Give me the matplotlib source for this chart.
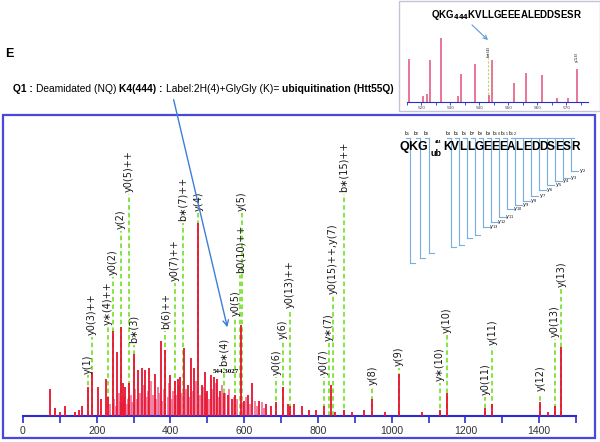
import numpy as np
import matplotlib
matplotlib.use("Agg")
import matplotlib.pyplot as plt
from matplotlib.patches import Rectangle, FancyArrowPatch

# ---- spectrum data (m/z, relative intensity, y(4) = 100) ----
peak_mz = [73, 86, 100, 113, 140, 152, 159, 176, 187, 203,
           211, 224, 230, 243, 256, 265, 270, 278, 287, 300,
           313, 324, 332, 343, 357, 373, 386, 400, 411, 420,
           427, 438, 447, 457, 465, 476, 485, 493, 500, 510,
           519, 527, 535, 544, 555, 566, 576, 592, 600, 610,
           622, 640, 660, 672, 687, 705, 718, 724, 735, 757,
           775, 795, 816, 835, 845, 870, 892, 924, 948, 981,
           1019, 1081, 1130, 1149, 1254, 1273, 1403, 1424, 1443, 1460]
peak_int = [14, 4, 2, 5, 2, 3, 5, 15, 23, 15,
            9, 19, 10, 44, 33, 46, 17, 15, 17, 32,
            24, 25, 24, 25, 22, 39, 34, 21, 18, 19,
            20, 35, 16, 30, 25, 100, 16, 23, 13, 21,
            20, 19, 13, 12, 11, 9, 11, 47, 8, 11,
            17, 8, 6, 5, 7, 15, 6, 5, 6, 5,
            3, 3, 5, 16, 2, 3, 2, 3, 9, 2,
            22, 2, 3, 12, 4, 6, 7, 2, 5, 36]

# dense low peaks (pink)
fill_mz = [236, 248, 252, 260, 262, 268, 274, 282, 284, 292,
           296, 305, 308, 318, 328, 336, 340, 348, 352, 362,
           366, 370, 378, 382, 392, 396, 404, 408, 415, 424,
           431, 442, 451, 461, 470, 480, 489, 497, 504, 514,
           523, 531, 539, 549, 560, 571, 581, 596, 605, 615,
           628, 634, 648, 655]
fill_int = [6, 9, 5, 12, 8, 7, 10, 6, 9, 11,
            7, 14, 9, 12, 16, 10, 13, 18, 11, 9,
            15, 12, 8, 14, 10, 17, 9, 13, 11, 16,
            12, 14, 10, 13, 18, 11, 15, 12, 9, 14,
            17, 10, 16, 12, 14, 10, 9, 7, 10, 6,
            8, 5, 7, 4]

# annotated fragment ions: name, m/z, height where the label starts
ion_names = ["y(1)", "y0(3)++", "y\u2217(4)++", "y0(2)", "y(2)", "y0(5)++", "b\u2217(3)",
             "b(6)++", "y0(7)++", "b\u2217(7)++", "y(4)", "b\u2217(4)", "y0(5)", "b0(10)++",
             "y(5)", "y0(6)", "y(6)", "y0(13)++", "y0(7)", "y\u2217(7)", "y0(15)++,y(7)",
             "b\u2217(15)++", "y(8)", "y(9)", "y\u2217(10)", "y(10)", "y0(11)", "y(11)",
             "y(12)", "y0(13)", "y(13)"]
ion_mz = [176, 187, 230, 243, 265, 287, 300, 386, 411, 433, 476, 544, 576, 589,
          594, 687, 705, 724, 816, 830, 840, 870, 948, 1019, 1130, 1149, 1254, 1273,
          1403, 1443, 1460]
ion_label_y = [21, 41, 46, 72, 96, 115, 37, 44, 69, 100, 105, 25, 51, 73,
               105, 20, 39, 55, 20, 38, 62, 115, 15, 25, 17, 42, 10, 36,
               12, 40, 66]

# zoomed inset spectrum
inset_mz = [515.7, 520.5, 521.9, 522.9, 526.7, 532.6, 533.6, 538.5, 543.3, 544.3,
            552.0, 556.1, 561.6, 566.8, 570.6, 573.7]
inset_int = [43, 6, 8, 42, 64, 6, 28, 38, 7, 42, 19, 29, 27, 4, 4, 33]

# peptide ladder
pep_head = "QKG"
pep_tail = "KVLLGEEEALEDDSESR"
ladder_depth = [263, 258, 253, 247, 245, 238, 235, 227, 222, 217,
                209, 205, 201, 196, 190, 185, 181, 178, 171]

W, H = 600, 442
RED = "#e8112d"
PINK = "#ee5f86"
GREEN = "#66dd11"
BLUE = "#2b2bd0"
LADDER = "#7aaee0"


def fbox(x0, y0, x1, y1):
    return [x0 / W, 1 - y1 / H, (x1 - x0) / W, (y1 - y0) / H]


fig = plt.figure(figsize=(6, 4.42), dpi=100)
fig.patch.set_facecolor("white")

# ---- main spectrum ----
ax = fig.add_axes(fbox(23, 120, 576, 416))
ax.patch.set_alpha(0)
ax.set_xlim(0, 1500)
ax.set_ylim(0, 153.4)
for s in ["left", "top", "right"]:
    ax.spines[s].set_visible(False)
ax.spines["bottom"].set_color(BLUE)
ax.spines["bottom"].set_linewidth(1.5)
ax.set_yticks([])
ax.set_xticks(np.arange(0, 1401, 200))
ax.set_xticks(np.arange(100, 1501, 200), minor=True)
ax.tick_params(axis="x", which="both", direction="out", length=5, width=1.2,
               color=BLUE, pad=2, labelsize=7.5, labelcolor="#333333")
for lab in ax.get_xticklabels():
    lab.set_family("Liberation Sans")

ax.vlines(ion_mz, 0, ion_label_y, colors=GREEN, linestyles=(0, (3, 2)), lw=1.1, zorder=1)
ax.vlines(fill_mz, 0, fill_int, colors=PINK, lw=1.1, zorder=2)
ax.vlines(peak_mz, 0, peak_int, colors=RED, lw=1.3, zorder=3)
for name, mz, yl in zip(ion_names, ion_mz, ion_label_y):
    ax.text(mz, yl + 1, name, rotation=90, ha="center", va="bottom",
            fontsize=7, color="#1a1a1a", family="DejaVu Sans", zorder=4)
ax.text(551, 23, "544.3027", ha="center", va="center", fontsize=5,
        fontweight="bold", family="Liberation Serif", zorder=4)

# ---- overlay in pixel coords for annotations ----
ov = fig.add_axes([0, 0, 1, 1])
ov.set_xlim(0, W)
ov.set_ylim(H, 0)
ov.axis("off")
ov.patch.set_alpha(0)
ov.set_zorder(5)

ov.add_patch(Rectangle((3, 115), 592, 323, fill=False, ec="#4848dc", lw=1.6))
ov.text(5, 54, "E", fontsize=9, fontweight="bold", family="Liberation Sans",
        va="center", ha="left")

r = fig.canvas.get_renderer()


def text_width(s, **kw):
    t = ov.text(0, 0, "X" + s + "X", **kw)
    w1 = t.get_window_extent(r).width
    t.remove()
    t = ov.text(0, 0, "XX", **kw)
    w2 = t.get_window_extent(r).width
    t.remove()
    return w1 - w2


parts = [("Q1 :", "bold"), ("Deamidated (NQ)", "normal"), ("K4(444) :", "bold"),
         ("Label:2H(4)+GlyGly (K)=", "normal"), ("ubiquitination (Htt55Q)", "bold")]
x = 13
for i, (s, w) in enumerate(parts):
    kw = dict(fontsize=7.4, fontweight=w, family="Liberation Sans")
    ov.text(x, 89, s, va="center", ha="left", **kw)
    x += text_width(s, **kw)
    if i < len(parts) - 1:
        x += text_width(" ", **kw)

ov.add_patch(FancyArrowPatch((173, 97), (228, 330), arrowstyle="->",
                             mutation_scale=10, color="#3d7fd8", lw=1.0))

# ---- peptide ladder ----
fnt = ["Liberation Sans Narrow", "Liberation Sans", "DejaVu Sans"]
for i, c in enumerate(pep_head):
    ov.text(404 + 9 * i, 147, c, fontsize=9, fontweight="bold", family=fnt,
            ha="center", va="center", zorder=3)
for j, c in enumerate(pep_tail):
    ov.text(447 + 8 * j, 147, c, fontsize=8.6, fontweight="bold", family=fnt,
            ha="center", va="center", zorder=3)
ov.text(436, 153, "ub", fontsize=6.5, fontweight="bold", family=fnt, ha="center", va="center")
ov.text(438, 142, "444", fontsize=2.8, fontweight="bold", family=fnt, ha="center", va="center")


def bnd(k):
    return 410 + 9.5 * (k - 1) if k <= 3 else 451 + 8 * (k - 4)


for k in range(1, 20):
    xb = bnd(k)
    d = ladder_depth[k - 1]
    ov.plot([xb, xb], [138, d], color=LADDER, lw=0.8, zorder=1)
    ov.plot([xb, xb + (7 if k >= 8 else 5)], [d, d], color=LADDER, lw=0.8, zorder=1)
    if k <= 12:
        ov.text(xb - 3, 134, "b$_{%d}$" % k, fontsize=3.3, ha="center", va="center")
        ov.plot([xb - 4, xb], [138, 138], color=LADDER, lw=0.8, zorder=1)
    if k >= 8:
        ov.text(xb + 11, d, "y$_{%d}$" % (21 - k), fontsize=3.6, ha="center", va="center")
ov.plot([bnd(12), bnd(19) + 3], [138, 138], color=LADDER, lw=0.8, zorder=1)

# ---- inset ----
ov.add_patch(Rectangle((399, 0.5), 201, 110, fill=False, ec="#c4c4d8", lw=1.0))
ax2 = fig.add_axes(fbox(407, 2, 588, 102))
ax2.patch.set_alpha(0)
ax2.set_xlim(515, 577.5)
ax2.set_ylim(0, 100)
for s in ["left", "top", "right"]:
    ax2.spines[s].set_visible(False)
ax2.spines["bottom"].set_color(BLUE)
ax2.spines["bottom"].set_linewidth(0.8)
ax2.set_yticks([])
ax2.set_xticks(np.arange(520, 576, 10))
ax2.set_xticks(np.arange(515, 578, 10), minor=True)
ax2.tick_params(axis="x", which="both", length=2, width=0.6, color=BLUE, pad=1,
                labelsize=3, labelcolor="#444444")
ax2.vlines(543.0, 0, 44, colors="#aadd55", linestyles=(0, (2, 1.5)), lw=0.8)
ax2.vlines(inset_mz, 0, inset_int, colors="#e0507a", lw=1.1)
ax2.text(543.3, 45, "b\u2217(4)", rotation=90, fontsize=2.8, ha="center", va="bottom")
ax2.text(573.7, 40, "y(13)", rotation=90, fontsize=2.8, ha="center", va="bottom")

ov.text(507, 15, r"QKG$_{\mathbf{444}}$KVLLGEEEALEDDSESR", fontsize=7, fontweight="bold",
        family="Liberation Sans", ha="center", va="center")
ov.add_patch(FancyArrowPatch((470, 23), (490, 42), arrowstyle="->",
                             mutation_scale=7, color="#5b9bd5", lw=0.8))

fig.savefig("out.png", dpi=100)
